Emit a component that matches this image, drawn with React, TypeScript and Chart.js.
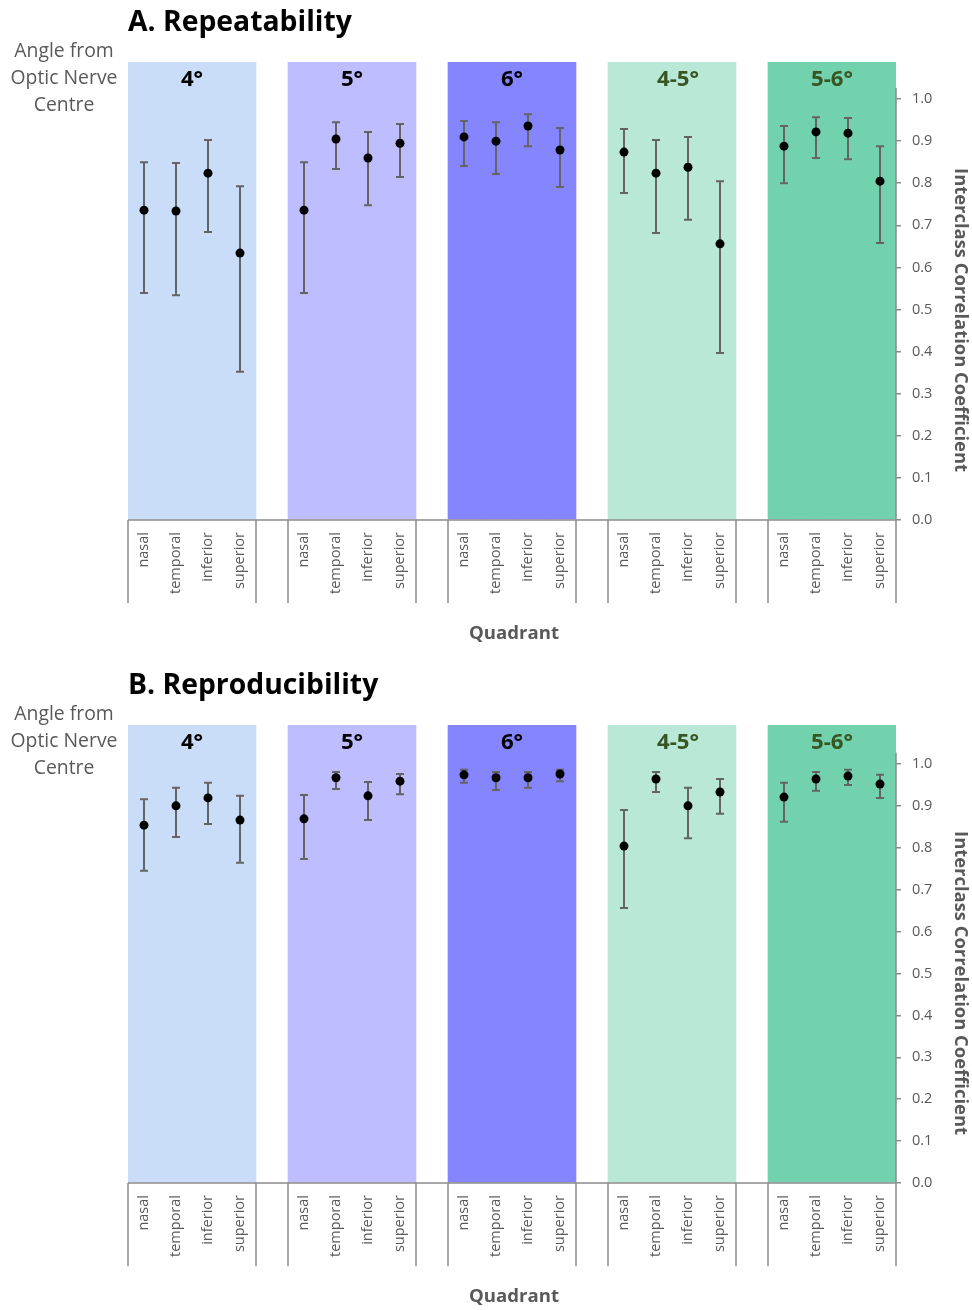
import { useEffect, useRef } from 'react';
import { Chart, registerables } from 'chart.js';

Chart.register(...registerables);

const FAMILY = "'Open Sans', 'Noto Sans', sans-serif";

// ---- data ----
const quadrants = ['nasal', 'temporal', 'inferior', 'superior'];
const angleGroups = ['4°', '5°', '6°', '4-5°', '5-6°'];
const groupColors = ['#C9DDF8', '#BDBDFF', '#8585FF', '#B9E8D6', '#73D2AE'];
const groupLabelColors = ['#000000', '#000000', '#000000', '#375623', '#375623'];
const groupLabelShift = [0, 0, 0, 6, 0];
const yTickValues = [0, 0.1, 0.2, 0.3, 0.4, 0.5, 0.6, 0.7, 0.8, 0.9, 1.0];

// A. Repeatability (ICC with 95% CI), order: group by group, quadrants inside
const repeatICC = [0.736, 0.734, 0.824, 0.634, 0.736, 0.905, 0.86, 0.895, 0.91, 0.9, 0.936, 0.879, 0.874, 0.824, 0.838, 0.656, 0.888, 0.922, 0.919, 0.805];
const repeatLow = [0.539, 0.534, 0.684, 0.352, 0.539, 0.834, 0.748, 0.815, 0.841, 0.822, 0.888, 0.791, 0.777, 0.682, 0.713, 0.397, 0.8, 0.86, 0.857, 0.658];
const repeatHigh = [0.85, 0.848, 0.903, 0.793, 0.85, 0.945, 0.922, 0.941, 0.948, 0.945, 0.964, 0.931, 0.929, 0.903, 0.91, 0.805, 0.936, 0.957, 0.955, 0.888];

// B. Reproducibility
const reproICC = [0.854, 0.9, 0.919, 0.866, 0.869, 0.967, 0.924, 0.959, 0.974, 0.967, 0.967, 0.976, 0.804, 0.964, 0.9, 0.933, 0.921, 0.964, 0.971, 0.952];
const reproLow = [0.745, 0.826, 0.857, 0.764, 0.773, 0.94, 0.866, 0.928, 0.955, 0.938, 0.943, 0.959, 0.656, 0.933, 0.823, 0.881, 0.862, 0.936, 0.95, 0.919];
const reproHigh = [0.916, 0.943, 0.955, 0.924, 0.926, 0.981, 0.957, 0.976, 0.986, 0.981, 0.981, 0.986, 0.89, 0.981, 0.943, 0.964, 0.955, 0.981, 0.986, 0.974];

// ---- build category slots (a blank slot between groups) ----
const labels: string[] = [];
const slotGroup: (number | null)[] = [];
angleGroups.forEach((_, g) => {
  quadrants.forEach((q) => {
    labels.push(q);
    slotGroup.push(g);
  });
  if (g < angleGroups.length - 1) {
    labels.push('');
    slotGroup.push(null);
  }
});

function spread(values: number[]): (number | null)[] {
  const out: (number | null)[] = [];
  let k = 0;
  slotGroup.forEach((g) => {
    if (g === null) out.push(null);
    else out.push(values[k++]);
  });
  return out;
}

function fitSize(ctx: CanvasRenderingContext2D, text: string, weight: string, width: number) {
  ctx.font = `${weight} 100px ${FAMILY}`;
  const w = ctx.measureText(text).width;
  return (100 * width) / w;
}

interface PanelProps {
  title: string;
  icc: number[];
  low: number[];
  high: number[];
  height: number;
  yMax: number;
}

function Panel({ title, icc, low, high, height, yMax }: PanelProps) {
  const ref = useRef<HTMLCanvasElement | null>(null);

  useEffect(() => {
    if (!ref.current) return;
    const iccS = spread(icc);
    const lowS = spread(low);
    const highS = spread(high);
    const bgData = slotGroup.map((g) => (g === null ? null : yMax));
    const bgColors = slotGroup.map((g) => (g === null ? 'rgba(0,0,0,0)' : groupColors[g]));
    const axisBottom = 520;
    const xAxisHeight = height - axisBottom;

    const decor = {
      id: 'decor',
      beforeDatasetDraw(chart: any, args: any) {
        if (args.meta.type !== 'line') return;
        const { ctx } = chart;
        const xs = chart.scales.x;
        const ys = chart.scales.y;
        ctx.save();
        ctx.strokeStyle = '#646464';
        ctx.lineWidth = 2;
        lowS.forEach((lo, i) => {
          const hi = highS[i];
          if (lo === null || hi === null) return;
          const px = xs.getPixelForValue(i);
          const yl = ys.getPixelForValue(lo);
          const yh = ys.getPixelForValue(hi);
          ctx.beginPath();
          ctx.moveTo(px, yl);
          ctx.lineTo(px, yh);
          ctx.moveTo(px - 4, yl);
          ctx.lineTo(px + 4, yl);
          ctx.moveTo(px - 4, yh);
          ctx.lineTo(px + 4, yh);
          ctx.stroke();
        });
        ctx.restore();
      },
      afterDatasetsDraw(chart: any) {
        const { ctx } = chart;
        const xs = chart.scales.x;
        ctx.save();
        const gSize = fitSize(ctx, '4-5°', 'bold', 42);
        ctx.font = `bold ${gSize}px ${FAMILY}`;
        ctx.textAlign = 'center';
        ctx.textBaseline = 'alphabetic';
        angleGroups.forEach((name, g) => {
          const start = slotGroup.indexOf(g);
          const cx = (xs.getPixelForValue(start) + xs.getPixelForValue(start + 3)) / 2 + groupLabelShift[g];
          ctx.fillStyle = groupLabelColors[g];
          ctx.fillText(name, cx, 86);
        });
        ctx.restore();
      },
      afterDraw(chart: any) {
        const { ctx, chartArea } = chart;
        const xs = chart.scales.x;
        const ys = chart.scales.y;
        const half = (xs.getPixelForValue(1) - xs.getPixelForValue(0)) / 2;
        ctx.save();
        // axis lines
        ctx.strokeStyle = '#8c8c8c';
        ctx.lineWidth = 1.5;
        ctx.beginPath();
        ctx.moveTo(chartArea.left, chartArea.bottom);
        ctx.lineTo(chartArea.right, chartArea.bottom);
        ctx.moveTo(chartArea.right, ys.getPixelForValue(1.027));
        ctx.lineTo(chartArea.right, chartArea.bottom);
        angleGroups.forEach((_, g) => {
          const start = slotGroup.indexOf(g);
          const l = xs.getPixelForValue(start) - half;
          const r = xs.getPixelForValue(start + 3) + half;
          ctx.moveTo(l, chartArea.bottom);
          ctx.lineTo(l, chartArea.bottom + 83);
          ctx.moveTo(r, chartArea.bottom);
          ctx.lineTo(r, chartArea.bottom + 83);
        });
        ctx.stroke();

        // title
        const tSize = fitSize(ctx, 'A. Repeatability', 'bold', 224);
        ctx.font = `bold ${tSize}px ${FAMILY}`;
        ctx.fillStyle = '#000000';
        ctx.textAlign = 'left';
        ctx.textBaseline = 'alphabetic';
        ctx.fillText(title, 128, 31);

        // left label
        const lSize = fitSize(ctx, 'Optic Nerve', 'normal', 107);
        ctx.font = `normal ${lSize}px ${FAMILY}`;
        ctx.fillStyle = '#595959';
        ctx.textAlign = 'center';
        ['Angle from', 'Optic Nerve', 'Centre'].forEach((line, i) => {
          ctx.fillText(line, 64, 57 + i * 27);
        });

        // x axis title
        const qSize = fitSize(ctx, 'Quadrant', 'bold', 90);
        ctx.font = `bold ${qSize}px ${FAMILY}`;
        ctx.fillText('Quadrant', 514, 639);

        // y axis title (rotated)
        const ySize = fitSize(ctx, 'Interclass Correlation Coefficient', 'bold', 304);
        ctx.font = `bold ${ySize}px ${FAMILY}`;
        ctx.translate(960, 320);
        ctx.rotate(Math.PI / 2);
        ctx.textBaseline = 'middle';
        ctx.fillText('Interclass Correlation Coefficient', 0, 0);
        ctx.restore();
      },
    };

    const chart = new Chart(ref.current, {
      type: 'bar',
      data: {
        labels,
        datasets: [
          {
            type: 'bar',
            data: bgData,
            backgroundColor: bgColors,
            borderWidth: 0,
            barPercentage: 1,
            categoryPercentage: 1,
            order: 2,
          } as any,
          {
            type: 'line',
            data: iccS,
            showLine: false,
            pointRadius: 4.5,
            pointBackgroundColor: '#000000',
            pointBorderWidth: 0,
            pointBorderColor: '#000000',
            order: 1,
          } as any,
        ],
      },
      options: {
        responsive: false,
        animation: false,
        devicePixelRatio: 1,
        layout: { padding: { left: 128, top: 62, right: 0, bottom: 0 } },
        plugins: {
          legend: { display: false },
          tooltip: { enabled: false },
        },
        scales: {
          x: {
            type: 'category',
            offset: true,
            grid: { display: false, drawTicks: false },
            border: { display: false },
            ticks: {
              autoSkip: false,
              maxRotation: 90,
              minRotation: 90,
              padding: 12,
              color: '#595959',
              font: { family: FAMILY, size: 14.5 },
            },
            afterFit(s: any) {
              s.height = xAxisHeight;
            },
          },
          y: {
            position: 'right',
            min: 0,
            max: yMax,
            grid: { drawOnChartArea: false, drawTicks: true, tickLength: 5, color: '#8c8c8c', lineWidth: 1.5 },
            border: { display: false },
            ticks: {
              padding: 11,
              color: '#595959',
              font: { family: FAMILY, size: 14.5 },
              callback: (v: any) => Number(v).toFixed(1),
            },
            afterBuildTicks(s: any) {
              s.ticks = yTickValues.map((v) => ({ value: v }));
            },
            afterFit(s: any) {
              s.width = 76;
            },
          },
        },
      } as any,
      plugins: [decor],
    });
    return () => chart.destroy();
  }, [title, icc, low, high, height, yMax]);

  return <canvas ref={ref} width={972} height={height} style={{ display: 'block', width: 972, height }} />;
}

export default function App() {
  return (
    <div style={{ position: 'absolute', left: 0, top: 0, width: 972, height: 1310, background: '#ffffff' }}>
      <Panel title="A. Repeatability" icc={repeatICC} low={repeatLow} high={repeatHigh} height={663} yMax={1.088} />
      <Panel title="B. Reproducibility" icc={reproICC} low={reproLow} high={reproHigh} height={647} yMax={1.093} />
    </div>
  );
}
